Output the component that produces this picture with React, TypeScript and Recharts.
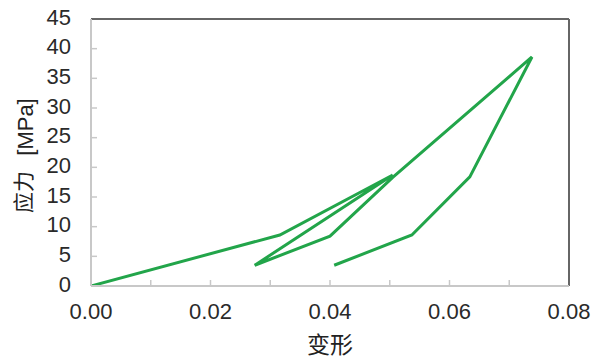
import React from "react";
import { LineChart, Line, XAxis, YAxis, ReferenceLine } from "recharts";

const strainX = [0, 0.0316, 0.0505, 0.0274, 0.04, 0.0505, 0.0738, 0.0634, 0.0537, 0.0407];
const stressY = [0, 8.6, 18.7, 3.5, 8.4, 18.3, 38.6, 18.4, 8.6, 3.5];
const xTicks = [0, 0.01, 0.02, 0.03, 0.04, 0.05, 0.06, 0.07, 0.08];
const xLabelTicks = [0, 0.02, 0.04, 0.06, 0.08];
const yTicks = [0, 5, 10, 15, 20, 25, 30, 35, 40, 45];

const data = strainX.map((x, i) => ({ x, y: stressY[i] }));

const tickFont = "'Liberation Sans', Arial, sans-serif";
const cjkFont = "'Noto Sans CJK SC', sans-serif";

const XTick = (props: any) => {
  const { x, y, payload } = props;
  const v = payload.value as number;
  const show = xLabelTicks.some((t) => Math.abs(t - v) < 1e-9);
  return (
    <g>
      {v > 0 && v < 0.08 ? <line x1={x} x2={x} y1={y} y2={y - 6} stroke="#c8c8c8" strokeWidth={1.5} /> : null}
      {show ? (
        <text x={x} y={y + 27} textAnchor="middle" dominantBaseline="middle" fontSize={22} fill="#2a2a2a" fontFamily={tickFont}>
          {v.toFixed(2)}
        </text>
      ) : null}
    </g>
  );
};

const YTick = (props: any) => {
  const { x, y, payload } = props;
  const v = payload.value as number;
  return (
    <g>
      {v > 0 && v < 45 ? <line x1={x} x2={x + 6} y1={y} y2={y} stroke="#c8c8c8" strokeWidth={1.5} /> : null}
      <text x={x - 20} y={y} textAnchor="end" dominantBaseline="middle" fontSize={22} fill="#2a2a2a" fontFamily={tickFont}>
        {v}
      </text>
    </g>
  );
};

export default function App() {
  return (
    <div style={{ position: "absolute", left: 0, top: 0, width: 598, height: 360, background: "#fff" }}>
      <LineChart width={598} height={360} data={data} margin={{ top: 19, right: 29, bottom: 0, left: 0 }}>
        <XAxis
          dataKey="x"
          type="number"
          domain={[0, 0.08]}
          ticks={xTicks}
          interval={0}
          allowDataOverflow
          height={74}
          tickSize={0}
          tickMargin={0}
          tickLine={false}
          axisLine={{ stroke: "#c8c8c8", strokeWidth: 2 }}
          tick={<XTick />}
        />
        <YAxis
          dataKey="y"
          type="number"
          domain={[0, 45]}
          ticks={yTicks}
          interval={0}
          allowDataOverflow
          width={91}
          tickSize={0}
          tickMargin={0}
          tickLine={false}
          axisLine={{ stroke: "#c8c8c8", strokeWidth: 2 }}
          tick={<YTick />}
        />
        <ReferenceLine y={45} stroke="#666" strokeWidth={2} />
        <ReferenceLine x={0.08} stroke="#666" strokeWidth={2} />
        <Line
          type="linear"
          dataKey="y"
          stroke="#22a54a"
          strokeWidth={3}
          dot={false}
          activeDot={false}
          isAnimationActive={false}
        />
        <text
          x={27}
          y={127}
          transform="rotate(-90 27 127)"
          textAnchor="middle"
          dominantBaseline="middle"
          fontSize={22}
          fill="#222"
          fontFamily={tickFont}
        >
          [MPa]
        </text>
        <text
          x={25}
          y={192}
          transform="rotate(-90 25 192)"
          textAnchor="middle"
          dominantBaseline="middle"
          fontSize={21}
          fill="#222"
          fontFamily={cjkFont}
        >
          应力
        </text>
        <text
          x={330}
          y={347}
          textAnchor="middle"
          dominantBaseline="middle"
          fontSize={23}
          fill="#222"
          fontFamily={cjkFont}
        >
          变形
        </text>
      </LineChart>
    </div>
  );
}
